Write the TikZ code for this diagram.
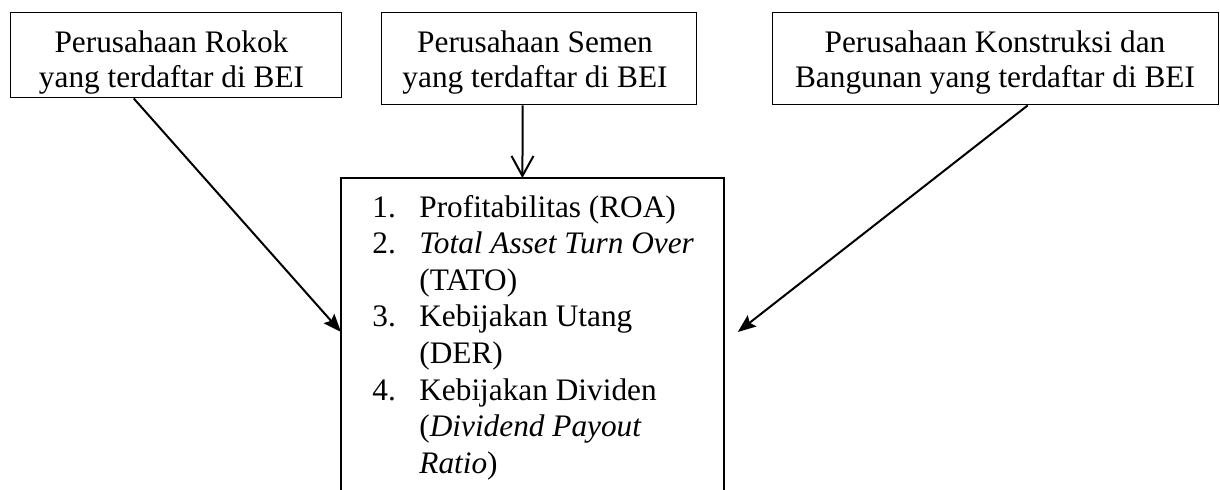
\documentclass[tikz,border=0pt]{standalone}
\usepackage{fontspec}
\setmainfont{Liberation Serif}
\usetikzlibrary{arrows.meta,calc}
\begin{document}
\begin{tikzpicture}[x=0.5pt,y=-0.5pt,
  box/.style={draw, line width=0.7pt, anchor=north west, inner sep=0pt},
  toptext/.style={align=center, inner sep=0pt, font=\fontsize{15.65}{17.5}\selectfont},
  arr/.style={line width=1pt, -{Stealth[length=9pt,width=7pt,inset=1.5pt]}},
  varr/.style={line width=1pt, -{Straight Barb[length=10pt,width=11pt,line width=1pt]}}]
\useasboundingbox (0,0) rectangle (1220,489);
\node (b1) [box, minimum width=165.5pt, minimum height=42.5pt] at (10,12) {};
\node (b2) [box, minimum width=157.5pt, minimum height=46pt] at (381,12) {};
\node (b3) [box, minimum width=223pt, minimum height=46pt] at (772,12) {};
\node (t1) [toptext] at (171.5,62.5) {Perusahaan Rokok\\yang terdaftar di BEI};
\node (t2) [toptext] at (535,62.5) {Perusahaan Semen\\yang terdaftar di BEI};
\node (t3) [toptext] at (995,62.5) {Perusahaan Konstruksi dan\\Bangunan yang terdaftar di BEI};
\node (list) [anchor=north west, inner sep=0pt, minimum width=191pt, minimum height=170pt] at (341,178) {};
\draw[line width=0.7pt] (list.south west) -- (list.north west) -- (list.north east) -- (list.south east);
\node (items) [anchor=base west, inner sep=0pt, font=\fontsize{15.65}{18.3}\selectfont] at (372,217)
{\begin{tabular}[t]{@{}l@{}l@{}}
\makebox[23.5pt][l]{1.} & Profitabilitas (ROA)\\
\makebox[23.5pt][l]{2.} & \textit{Total Asset Turn Over}\\
 & (TATO)\\
\makebox[23.5pt][l]{3.} & Kebijakan Utang\\
 & (DER)\\
\makebox[23.5pt][l]{4.} & Kebijakan Dividen\\
 & (\textit{Dividend Payout}\\
 & \textit{Ratio})
\end{tabular}};
\draw[arr] ($(b1.south)+(-42.5,0)$) -- ($(list.north west)+(0,154)$);
\draw[varr] ($(b2.south)+(-16.5,0)$) -- ($(list.north)+(-10,0)$);
\draw[arr] ($(b3.south)+(32,0)$) -- ($(list.north east)+(14,154)$);
\end{tikzpicture}
\end{document}
